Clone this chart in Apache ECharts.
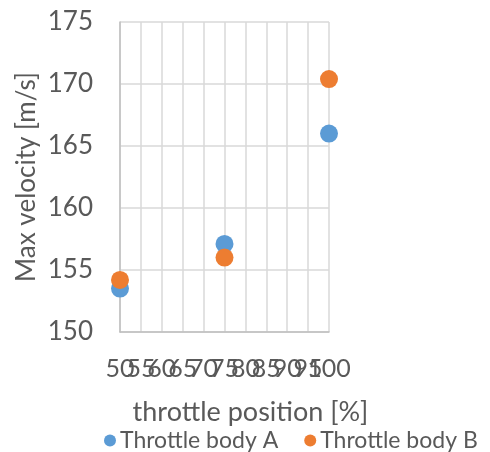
<!DOCTYPE html>
<html><head><meta charset="utf-8">
<script src="https://cdn.jsdelivr.net/npm/echarts@6/dist/echarts.min.js"></script>
<style>html,body{margin:0;padding:0;background:#fff}#c{width:490px;height:452px}</style>
</head><body><div id="c"></div>
<script>
const throttle = [50, 75, 100];
const bodyA = [153.5, 157.1, 166.0];
const bodyB = [154.2, 156.0, 170.4];
const seriesNames = ['Throttle body A', 'Throttle body B'];
const colors = ['#5B9BD5', '#ED7D31'];
const xTitle = 'throttle position [%]';
const yTitle = 'Max velocity [m/s]';

const font = 'Lato, "Open Sans", sans-serif';
const labelStyle = {fontFamily: font, fontSize: 25, color: '#595959', margin: 24, hideOverlap: false};
const chart = echarts.init(document.getElementById('c'));
chart.setOption({
  animation: false,
  grid: {left: 120, right: 161, top: 22, bottom: 120},
  xAxis: [{
    type: 'value', min: 50, max: 100, interval: 5,
    name: xTitle, nameLocation: 'middle', nameGap: 67,
    nameTextStyle: {fontFamily: font, fontSize: 27, color: '#595959', padding: [0, 0, 0, 52]},
    axisLine: {lineStyle: {color: '#BFBFBF', width: 1.5}},
    axisTick: {show: false},
    axisLabel: Object.assign({showMinLabel: false, showMaxLabel: false}, labelStyle),
    splitLine: {show: true, lineStyle: {color: '#D9D9D9', width: 1.5}}
  }, {
    type: 'value', min: 50, max: 100, interval: 50, position: 'bottom',
    axisLine: {show: false}, axisTick: {show: false}, splitLine: {show: false},
    axisLabel: Object.assign({showMinLabel: true, showMaxLabel: true}, labelStyle)
  }],
  yAxis: {
    type: 'value', min: 150, max: 175, interval: 5,
    name: yTitle, nameLocation: 'middle', nameGap: 80, nameRotate: 90,
    nameTextStyle: {fontFamily: font, fontSize: 26, color: '#595959'},
    axisLine: {show: true, lineStyle: {color: '#BFBFBF', width: 1.5}},
    axisTick: {show: false},
    axisLabel: {fontFamily: font, fontSize: 26, color: '#595959', margin: 27},
    splitLine: {show: true, lineStyle: {color: '#D9D9D9', width: 1.5}}
  },
  legend: {
    left: 99, top: 424, icon: 'circle', itemWidth: 12, itemHeight: 12, itemGap: 26,
    textStyle: {fontFamily: font, fontSize: 23, color: '#595959', padding: [0, 0, 0, -1]},
    data: seriesNames
  },
  series: [
    {name: seriesNames[0], type: 'scatter', symbolSize: 18, itemStyle: {color: colors[0], opacity: 1},
     data: throttle.map((x, i) => [x, bodyA[i]])},
    {name: seriesNames[1], type: 'scatter', symbolSize: 18, itemStyle: {color: colors[1], opacity: 1},
     data: throttle.map((x, i) => [x, bodyB[i]])}
  ]
});
</script></body></html>
